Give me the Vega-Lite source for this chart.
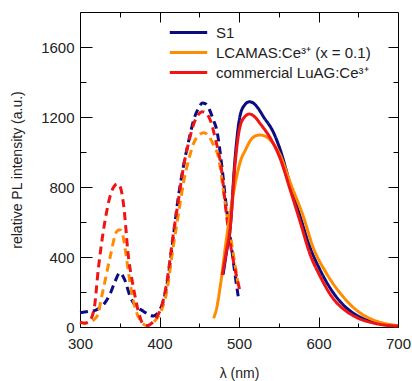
{
  "$schema": "https://vega.github.io/schema/vega-lite/v6.json",
  "width": 318,
  "height": 315,
  "autosize": {"type": "none"},
  "padding": {"left": 80, "top": 12, "right": 14, "bottom": 54},
  "background": "white",
  "config": {
    "font": "Liberation Sans",
    "view": {"stroke": "black", "strokeWidth": 1},
    "axis": {"domain": false, "grid": false, "labelFlush": false, "tickColor": "black", "tickWidth": 1, "labelFont": "Liberation Sans", "labelFontSize": 15, "labelColor": "#222", "titleFont": "Liberation Sans", "titleFontSize": 14, "titleFontWeight": "normal", "titleColor": "#222"},
    "legend": {"labelFont": "Liberation Sans"}
  },
  "datasets": {
    "spec": [
      {"sample": "S1", "kind": "ex", "wl": 300, "v": 82},
      {"sample": "S1", "kind": "ex", "wl": 310, "v": 88},
      {"sample": "S1", "kind": "ex", "wl": 320, "v": 97},
      {"sample": "S1", "kind": "ex", "wl": 330, "v": 130},
      {"sample": "S1", "kind": "ex", "wl": 338, "v": 190},
      {"sample": "S1", "kind": "ex", "wl": 344, "v": 259},
      {"sample": "S1", "kind": "ex", "wl": 350, "v": 310},
      {"sample": "S1", "kind": "ex", "wl": 356, "v": 272},
      {"sample": "S1", "kind": "ex", "wl": 363, "v": 175},
      {"sample": "S1", "kind": "ex", "wl": 371, "v": 116},
      {"sample": "S1", "kind": "ex", "wl": 378, "v": 95},
      {"sample": "S1", "kind": "ex", "wl": 384, "v": 78},
      {"sample": "S1", "kind": "ex", "wl": 392, "v": 63},
      {"sample": "S1", "kind": "ex", "wl": 400, "v": 95},
      {"sample": "S1", "kind": "ex", "wl": 405, "v": 150},
      {"sample": "S1", "kind": "ex", "wl": 410, "v": 260},
      {"sample": "S1", "kind": "ex", "wl": 417, "v": 500},
      {"sample": "S1", "kind": "ex", "wl": 423, "v": 720},
      {"sample": "S1", "kind": "ex", "wl": 430, "v": 916},
      {"sample": "S1", "kind": "ex", "wl": 437, "v": 1069},
      {"sample": "S1", "kind": "ex", "wl": 443, "v": 1183},
      {"sample": "S1", "kind": "ex", "wl": 449, "v": 1250},
      {"sample": "S1", "kind": "ex", "wl": 454, "v": 1280},
      {"sample": "S1", "kind": "ex", "wl": 458, "v": 1275},
      {"sample": "S1", "kind": "ex", "wl": 463, "v": 1240},
      {"sample": "S1", "kind": "ex", "wl": 468, "v": 1180},
      {"sample": "S1", "kind": "ex", "wl": 472, "v": 1126},
      {"sample": "S1", "kind": "ex", "wl": 478, "v": 935},
      {"sample": "S1", "kind": "ex", "wl": 484, "v": 690},
      {"sample": "S1", "kind": "ex", "wl": 491, "v": 440},
      {"sample": "S1", "kind": "ex", "wl": 495, "v": 300},
      {"sample": "S1", "kind": "ex", "wl": 499, "v": 175},

      {"sample": "LCAMAS:Ce³⁺ (x = 0.1)", "kind": "ex", "wl": 300, "v": 25},
      {"sample": "LCAMAS:Ce³⁺ (x = 0.1)", "kind": "ex", "wl": 306, "v": 22},
      {"sample": "LCAMAS:Ce³⁺ (x = 0.1)", "kind": "ex", "wl": 313, "v": 30},
      {"sample": "LCAMAS:Ce³⁺ (x = 0.1)", "kind": "ex", "wl": 321, "v": 59},
      {"sample": "LCAMAS:Ce³⁺ (x = 0.1)", "kind": "ex", "wl": 329, "v": 211},
      {"sample": "LCAMAS:Ce³⁺ (x = 0.1)", "kind": "ex", "wl": 338, "v": 402},
      {"sample": "LCAMAS:Ce³⁺ (x = 0.1)", "kind": "ex", "wl": 346, "v": 545},
      {"sample": "LCAMAS:Ce³⁺ (x = 0.1)", "kind": "ex", "wl": 350, "v": 556},
      {"sample": "LCAMAS:Ce³⁺ (x = 0.1)", "kind": "ex", "wl": 353, "v": 540},
      {"sample": "LCAMAS:Ce³⁺ (x = 0.1)", "kind": "ex", "wl": 357, "v": 440},
      {"sample": "LCAMAS:Ce³⁺ (x = 0.1)", "kind": "ex", "wl": 363, "v": 251},
      {"sample": "LCAMAS:Ce³⁺ (x = 0.1)", "kind": "ex", "wl": 369, "v": 116},
      {"sample": "LCAMAS:Ce³⁺ (x = 0.1)", "kind": "ex", "wl": 377, "v": 30},
      {"sample": "LCAMAS:Ce³⁺ (x = 0.1)", "kind": "ex", "wl": 384, "v": 8},
      {"sample": "LCAMAS:Ce³⁺ (x = 0.1)", "kind": "ex", "wl": 390, "v": 20},
      {"sample": "LCAMAS:Ce³⁺ (x = 0.1)", "kind": "ex", "wl": 396, "v": 45},
      {"sample": "LCAMAS:Ce³⁺ (x = 0.1)", "kind": "ex", "wl": 402, "v": 90},
      {"sample": "LCAMAS:Ce³⁺ (x = 0.1)", "kind": "ex", "wl": 409, "v": 200},
      {"sample": "LCAMAS:Ce³⁺ (x = 0.1)", "kind": "ex", "wl": 417, "v": 450},
      {"sample": "LCAMAS:Ce³⁺ (x = 0.1)", "kind": "ex", "wl": 424, "v": 650},
      {"sample": "LCAMAS:Ce³⁺ (x = 0.1)", "kind": "ex", "wl": 430, "v": 820},
      {"sample": "LCAMAS:Ce³⁺ (x = 0.1)", "kind": "ex", "wl": 437, "v": 960},
      {"sample": "LCAMAS:Ce³⁺ (x = 0.1)", "kind": "ex", "wl": 443, "v": 1050},
      {"sample": "LCAMAS:Ce³⁺ (x = 0.1)", "kind": "ex", "wl": 449, "v": 1095},
      {"sample": "LCAMAS:Ce³⁺ (x = 0.1)", "kind": "ex", "wl": 456, "v": 1110},
      {"sample": "LCAMAS:Ce³⁺ (x = 0.1)", "kind": "ex", "wl": 462, "v": 1090},
      {"sample": "LCAMAS:Ce³⁺ (x = 0.1)", "kind": "ex", "wl": 468, "v": 1040},
      {"sample": "LCAMAS:Ce³⁺ (x = 0.1)", "kind": "ex", "wl": 474, "v": 973},
      {"sample": "LCAMAS:Ce³⁺ (x = 0.1)", "kind": "ex", "wl": 482, "v": 726},
      {"sample": "LCAMAS:Ce³⁺ (x = 0.1)", "kind": "ex", "wl": 491, "v": 470},
      {"sample": "LCAMAS:Ce³⁺ (x = 0.1)", "kind": "ex", "wl": 499, "v": 240},

      {"sample": "commercial LuAG:Ce³⁺", "kind": "ex", "wl": 300, "v": 28},
      {"sample": "commercial LuAG:Ce³⁺", "kind": "ex", "wl": 306, "v": 22},
      {"sample": "commercial LuAG:Ce³⁺", "kind": "ex", "wl": 312, "v": 35},
      {"sample": "commercial LuAG:Ce³⁺", "kind": "ex", "wl": 318, "v": 110},
      {"sample": "commercial LuAG:Ce³⁺", "kind": "ex", "wl": 323, "v": 330},
      {"sample": "commercial LuAG:Ce³⁺", "kind": "ex", "wl": 331, "v": 594},
      {"sample": "commercial LuAG:Ce³⁺", "kind": "ex", "wl": 339, "v": 765},
      {"sample": "commercial LuAG:Ce³⁺", "kind": "ex", "wl": 344, "v": 810},
      {"sample": "commercial LuAG:Ce³⁺", "kind": "ex", "wl": 347, "v": 818},
      {"sample": "commercial LuAG:Ce³⁺", "kind": "ex", "wl": 351, "v": 795},
      {"sample": "commercial LuAG:Ce³⁺", "kind": "ex", "wl": 356, "v": 650},
      {"sample": "commercial LuAG:Ce³⁺", "kind": "ex", "wl": 360, "v": 440},
      {"sample": "commercial LuAG:Ce³⁺", "kind": "ex", "wl": 367, "v": 230},
      {"sample": "commercial LuAG:Ce³⁺", "kind": "ex", "wl": 373, "v": 97},
      {"sample": "commercial LuAG:Ce³⁺", "kind": "ex", "wl": 379, "v": 20},
      {"sample": "commercial LuAG:Ce³⁺", "kind": "ex", "wl": 385, "v": 8},
      {"sample": "commercial LuAG:Ce³⁺", "kind": "ex", "wl": 391, "v": 25},
      {"sample": "commercial LuAG:Ce³⁺", "kind": "ex", "wl": 397, "v": 60},
      {"sample": "commercial LuAG:Ce³⁺", "kind": "ex", "wl": 402, "v": 110},
      {"sample": "commercial LuAG:Ce³⁺", "kind": "ex", "wl": 409, "v": 250},
      {"sample": "commercial LuAG:Ce³⁺", "kind": "ex", "wl": 417, "v": 520},
      {"sample": "commercial LuAG:Ce³⁺", "kind": "ex", "wl": 424, "v": 730},
      {"sample": "commercial LuAG:Ce³⁺", "kind": "ex", "wl": 430, "v": 910},
      {"sample": "commercial LuAG:Ce³⁺", "kind": "ex", "wl": 437, "v": 1060},
      {"sample": "commercial LuAG:Ce³⁺", "kind": "ex", "wl": 443, "v": 1160},
      {"sample": "commercial LuAG:Ce³⁺", "kind": "ex", "wl": 449, "v": 1215},
      {"sample": "commercial LuAG:Ce³⁺", "kind": "ex", "wl": 454, "v": 1230},
      {"sample": "commercial LuAG:Ce³⁺", "kind": "ex", "wl": 459, "v": 1220},
      {"sample": "commercial LuAG:Ce³⁺", "kind": "ex", "wl": 464, "v": 1180},
      {"sample": "commercial LuAG:Ce³⁺", "kind": "ex", "wl": 470, "v": 1080},
      {"sample": "commercial LuAG:Ce³⁺", "kind": "ex", "wl": 478, "v": 900},
      {"sample": "commercial LuAG:Ce³⁺", "kind": "ex", "wl": 484, "v": 650},
      {"sample": "commercial LuAG:Ce³⁺", "kind": "ex", "wl": 490, "v": 450},
      {"sample": "commercial LuAG:Ce³⁺", "kind": "ex", "wl": 495, "v": 330},
      {"sample": "commercial LuAG:Ce³⁺", "kind": "ex", "wl": 501, "v": 210},

      {"sample": "S1", "kind": "em", "wl": 480, "v": 300},
      {"sample": "S1", "kind": "em", "wl": 484, "v": 420},
      {"sample": "S1", "kind": "em", "wl": 489, "v": 570},
      {"sample": "S1", "kind": "em", "wl": 495, "v": 960},
      {"sample": "S1", "kind": "em", "wl": 501, "v": 1200},
      {"sample": "S1", "kind": "em", "wl": 507, "v": 1268},
      {"sample": "S1", "kind": "em", "wl": 513, "v": 1287},
      {"sample": "S1", "kind": "em", "wl": 518, "v": 1280},
      {"sample": "S1", "kind": "em", "wl": 524, "v": 1250},
      {"sample": "S1", "kind": "em", "wl": 531, "v": 1200},
      {"sample": "S1", "kind": "em", "wl": 543, "v": 1115},
      {"sample": "S1", "kind": "em", "wl": 552, "v": 1011},
      {"sample": "S1", "kind": "em", "wl": 564, "v": 821},
      {"sample": "S1", "kind": "em", "wl": 577, "v": 630},
      {"sample": "S1", "kind": "em", "wl": 589, "v": 459},
      {"sample": "S1", "kind": "em", "wl": 602, "v": 326},
      {"sample": "S1", "kind": "em", "wl": 619, "v": 193},
      {"sample": "S1", "kind": "em", "wl": 635, "v": 110},
      {"sample": "S1", "kind": "em", "wl": 650, "v": 62},
      {"sample": "S1", "kind": "em", "wl": 665, "v": 33},
      {"sample": "S1", "kind": "em", "wl": 680, "v": 17},
      {"sample": "S1", "kind": "em", "wl": 700, "v": 6},

      {"sample": "LCAMAS:Ce³⁺ (x = 0.1)", "kind": "em", "wl": 468, "v": 50},
      {"sample": "LCAMAS:Ce³⁺ (x = 0.1)", "kind": "em", "wl": 472, "v": 110},
      {"sample": "LCAMAS:Ce³⁺ (x = 0.1)", "kind": "em", "wl": 477, "v": 250},
      {"sample": "LCAMAS:Ce³⁺ (x = 0.1)", "kind": "em", "wl": 484, "v": 497},
      {"sample": "LCAMAS:Ce³⁺ (x = 0.1)", "kind": "em", "wl": 490, "v": 680},
      {"sample": "LCAMAS:Ce³⁺ (x = 0.1)", "kind": "em", "wl": 497, "v": 859},
      {"sample": "LCAMAS:Ce³⁺ (x = 0.1)", "kind": "em", "wl": 502, "v": 950},
      {"sample": "LCAMAS:Ce³⁺ (x = 0.1)", "kind": "em", "wl": 508, "v": 1011},
      {"sample": "LCAMAS:Ce³⁺ (x = 0.1)", "kind": "em", "wl": 518, "v": 1085},
      {"sample": "LCAMAS:Ce³⁺ (x = 0.1)", "kind": "em", "wl": 526, "v": 1097},
      {"sample": "LCAMAS:Ce³⁺ (x = 0.1)", "kind": "em", "wl": 533, "v": 1090},
      {"sample": "LCAMAS:Ce³⁺ (x = 0.1)", "kind": "em", "wl": 540, "v": 1065},
      {"sample": "LCAMAS:Ce³⁺ (x = 0.1)", "kind": "em", "wl": 552, "v": 980},
      {"sample": "LCAMAS:Ce³⁺ (x = 0.1)", "kind": "em", "wl": 564, "v": 830},
      {"sample": "LCAMAS:Ce³⁺ (x = 0.1)", "kind": "em", "wl": 581, "v": 630},
      {"sample": "LCAMAS:Ce³⁺ (x = 0.1)", "kind": "em", "wl": 593, "v": 459},
      {"sample": "LCAMAS:Ce³⁺ (x = 0.1)", "kind": "em", "wl": 610, "v": 307},
      {"sample": "LCAMAS:Ce³⁺ (x = 0.1)", "kind": "em", "wl": 631, "v": 173},
      {"sample": "LCAMAS:Ce³⁺ (x = 0.1)", "kind": "em", "wl": 650, "v": 88},
      {"sample": "LCAMAS:Ce³⁺ (x = 0.1)", "kind": "em", "wl": 665, "v": 48},
      {"sample": "LCAMAS:Ce³⁺ (x = 0.1)", "kind": "em", "wl": 680, "v": 24},
      {"sample": "LCAMAS:Ce³⁺ (x = 0.1)", "kind": "em", "wl": 700, "v": 8},

      {"sample": "commercial LuAG:Ce³⁺", "kind": "em", "wl": 479, "v": 297},
      {"sample": "commercial LuAG:Ce³⁺", "kind": "em", "wl": 484, "v": 430},
      {"sample": "commercial LuAG:Ce³⁺", "kind": "em", "wl": 489, "v": 570},
      {"sample": "commercial LuAG:Ce³⁺", "kind": "em", "wl": 495, "v": 930},
      {"sample": "commercial LuAG:Ce³⁺", "kind": "em", "wl": 501, "v": 1140},
      {"sample": "commercial LuAG:Ce³⁺", "kind": "em", "wl": 507, "v": 1200},
      {"sample": "commercial LuAG:Ce³⁺", "kind": "em", "wl": 513, "v": 1217},
      {"sample": "commercial LuAG:Ce³⁺", "kind": "em", "wl": 520, "v": 1200},
      {"sample": "commercial LuAG:Ce³⁺", "kind": "em", "wl": 527, "v": 1160},
      {"sample": "commercial LuAG:Ce³⁺", "kind": "em", "wl": 540, "v": 1075},
      {"sample": "commercial LuAG:Ce³⁺", "kind": "em", "wl": 552, "v": 960},
      {"sample": "commercial LuAG:Ce³⁺", "kind": "em", "wl": 564, "v": 790},
      {"sample": "commercial LuAG:Ce³⁺", "kind": "em", "wl": 577, "v": 600},
      {"sample": "commercial LuAG:Ce³⁺", "kind": "em", "wl": 589, "v": 420},
      {"sample": "commercial LuAG:Ce³⁺", "kind": "em", "wl": 602, "v": 290},
      {"sample": "commercial LuAG:Ce³⁺", "kind": "em", "wl": 618, "v": 165},
      {"sample": "commercial LuAG:Ce³⁺", "kind": "em", "wl": 635, "v": 90},
      {"sample": "commercial LuAG:Ce³⁺", "kind": "em", "wl": 650, "v": 50},
      {"sample": "commercial LuAG:Ce³⁺", "kind": "em", "wl": 665, "v": 27},
      {"sample": "commercial LuAG:Ce³⁺", "kind": "em", "wl": 680, "v": 13},
      {"sample": "commercial LuAG:Ce³⁺", "kind": "em", "wl": 700, "v": 5}
    ]
  },
  "data": {"name": "spec"},
  "layer": [
    {
      "mark": {"type": "line", "strokeWidth": 3, "interpolate": "monotone"},
      "encoding": {
        "x": {"field": "wl", "type": "quantitative", "scale": {"domain": [300, 700], "nice": false},
          "axis": {"orient": "bottom", "values": [300, 350, 400, 450, 500, 550, 600, 650, 700], "labelExpr": "datum.value % 100 === 0 ? datum.label : ''",
            "tickSize": {"condition": {"test": "datum.value % 100 === 0", "value": -10}, "value": -4}, "labelPadding": 19, "title": "λ (nm)", "titlePadding": 15}},
        "y": {"field": "v", "type": "quantitative", "scale": {"domain": [0, 1800], "nice": false},
          "axis": {"orient": "left", "values": [0, 200, 400, 600, 800, 1000, 1200, 1400, 1600, 1800], "format": "d", "labelExpr": "datum.value % 400 === 0 && datum.value < 1800 ? datum.label : ''",
            "tickSize": {"condition": {"test": "datum.value % 400 === 0", "value": -12}, "value": -6}, "labelPadding": 18, "title": "relative PL intensity (a.u.)", "titlePadding": 16}},
        "color": {"field": "sample", "type": "nominal",
          "scale": {"domain": ["S1", "LCAMAS:Ce³⁺ (x = 0.1)", "commercial LuAG:Ce³⁺"], "range": ["#0c0c80", "#ff8c00", "#f01414"]},
          "legend": {"title": null, "orient": "none", "legendX": 88, "legendY": 12, "symbolType": "stroke", "symbolSize": 1400, "symbolStrokeWidth": 3, "labelFontSize": 15, "labelColor": "#222", "labelOffset": 7, "clipHeight": 17, "rowPadding": 3}},
        "strokeDash": {"field": "kind", "type": "nominal", "scale": {"domain": ["ex", "em"], "range": [[8, 5], [1, 0]]}, "legend": null},
        "detail": {"field": "kind"}
      }
    },
    {
      "mark": {"type": "line", "opacity": 0},
      "encoding": {
        "x": {"field": "wl", "type": "quantitative", "scale": {"domain": [300, 700], "nice": false},
          "axis": {"orient": "top", "values": [350, 400, 450, 500, 550, 600, 650], "labels": false, "title": null,
            "tickSize": {"condition": {"test": "datum.value % 100 === 0", "value": -10}, "value": -5}}},
        "y": {"field": "v", "type": "quantitative", "scale": {"domain": [0, 1800], "nice": false},
          "axis": {"orient": "right", "values": [200, 400, 600, 800, 1000, 1200, 1400, 1600], "labels": false, "title": null,
            "tickSize": {"condition": {"test": "datum.value % 400 === 0", "value": -10}, "value": -5}}},
        "detail": {"field": "sample"}
      }
    }
  ],
  "resolve": {"axis": {"x": "independent", "y": "independent"}}
}
